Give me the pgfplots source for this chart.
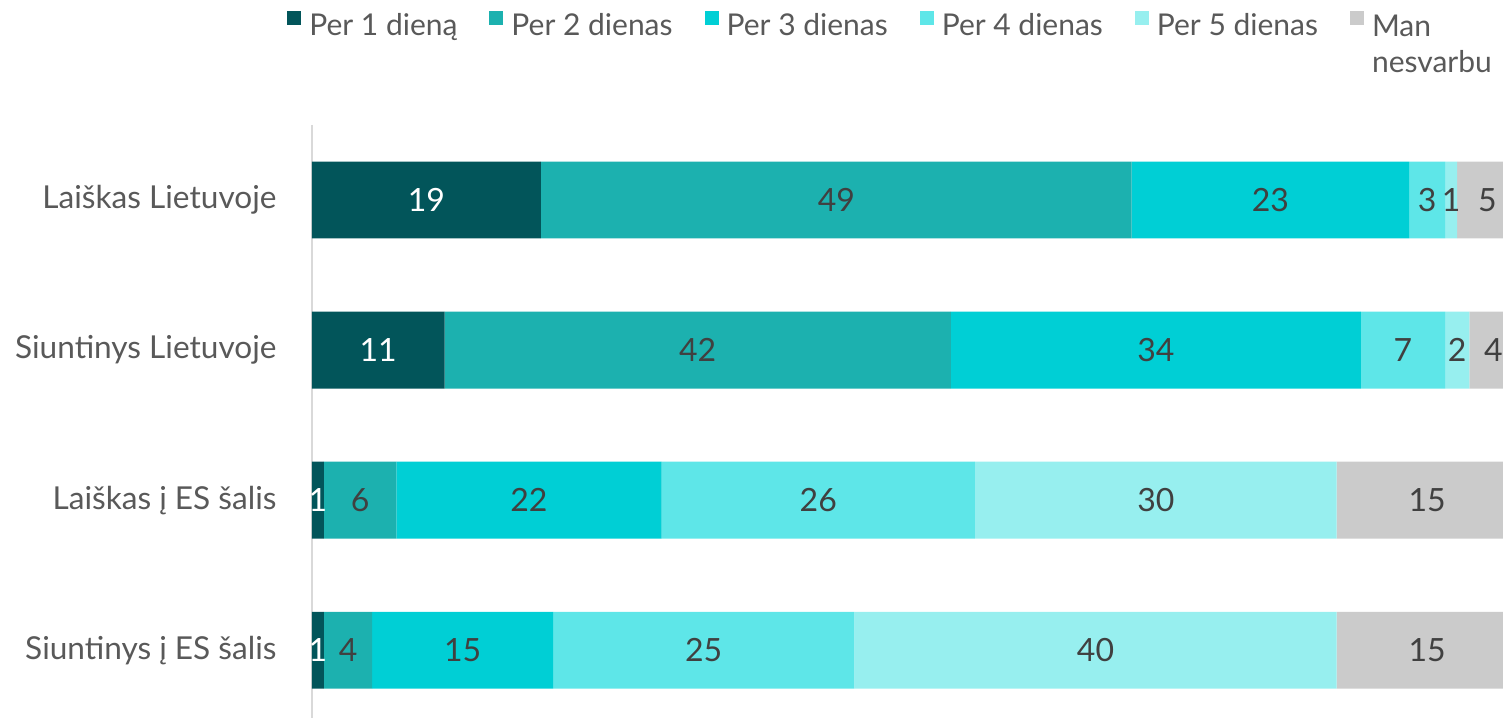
\documentclass[border=0pt]{standalone}
\usepackage{pgfplots}
\usepackage{pgfplotstable}
\pgfplotsset{compat=1.18}
\usepackage{fontspec}
\setmainfont{Lato}
\definecolor{c1}{HTML}{02555A}
\definecolor{c2}{HTML}{1CB1AF}
\definecolor{c3}{HTML}{00CFD5}
\definecolor{c4}{HTML}{5EE6E8}
\definecolor{c5}{HTML}{97EFEF}
\definecolor{c6}{HTML}{CBCBCB}
\definecolor{txt}{HTML}{595959}
\definecolor{lbl}{HTML}{404040}
\definecolor{axl}{HTML}{D9D9D9}
\pgfplotstableread{
r a b c d e f
0 19 49 23 3 1 5
1 11 42 34 7 2 4
2 1 6 22 26 30 15
3 1 4 15 25 40 15
}\data
\newcommand{\bigf}{\fontsize{16}{19}\selectfont}
\newcommand{\catf}{\fontsize{15.8}{18}\selectfont}
\newcommand{\legf}{\fontsize{15}{18}\selectfont}
\begin{document}
\begin{tikzpicture}
\useasboundingbox (-156pt,-296.5pt) rectangle (595.75pt,62.5pt);
\begin{axis}[
  at={(0,0)}, anchor=north west,
  scale only axis, width=603pt, height=296.5pt,
  xbar stacked, bar width=38.5pt,
  xmin=0, xmax=100, ymin=-0.5, ymax=3.45, y dir=reverse,
  axis x line=none, axis y line*=left,
  y axis line style={draw=axl, line width=1pt},
  ytick={0,1,2,3},
  yticklabels={Laiškas Lietuvoje, Siuntinys Lietuvoje, Laiškas į ES šalis, Siuntinys į ES šalis},
  major tick length=0pt,
  yticklabel style={font=\catf, text=txt, inner sep=0pt, xshift=-17.5pt},
  /pgf/number format/assume math mode=true,
  point meta=explicit,
  nodes near coords,
  every node near coord/.append style={anchor=center, font=\bigf, text=lbl},
  legend columns=6,
  legend cell align=left,
  legend style={at={(0,1)}, anchor=north west, xshift=-12.5pt, yshift=59pt,
    draw=none, fill=none, inner sep=0pt, font=\legf, text=txt,
    /tikz/every even column/.append style={column sep=14pt},
    /tikz/every odd column/.append style={column sep=2pt}},
  legend image code/.code={\fill[#1] (0pt,0pt) rectangle (7pt,7.5pt);},
]
\addplot[fill=c1, draw=none, every node near coord/.append style={text=white}] table[x=a, y=r, meta=a] {\data};
\addplot[fill=c2, draw=none] table[x=b, y=r, meta=b] {\data};
\addplot[fill=c3, draw=none] table[x=c, y=r, meta=c] {\data};
\addplot[fill=c4, draw=none] table[x=d, y=r, meta=d] {\data};
\addplot[fill=c5, draw=none] table[x=e, y=r, meta=e] {\data};
\addplot[fill=c6, draw=none] table[x=f, y=r, meta=f] {\data};
\legend{Per 1 dieną, Per 2 dienas, Per 3 dienas, Per 4 dienas, Per 5 dienas, {\begin{tabular}[t]{@{}l@{}}Man\\nesvarbu\end{tabular}}}
\end{axis}
\end{tikzpicture}
\end{document}
